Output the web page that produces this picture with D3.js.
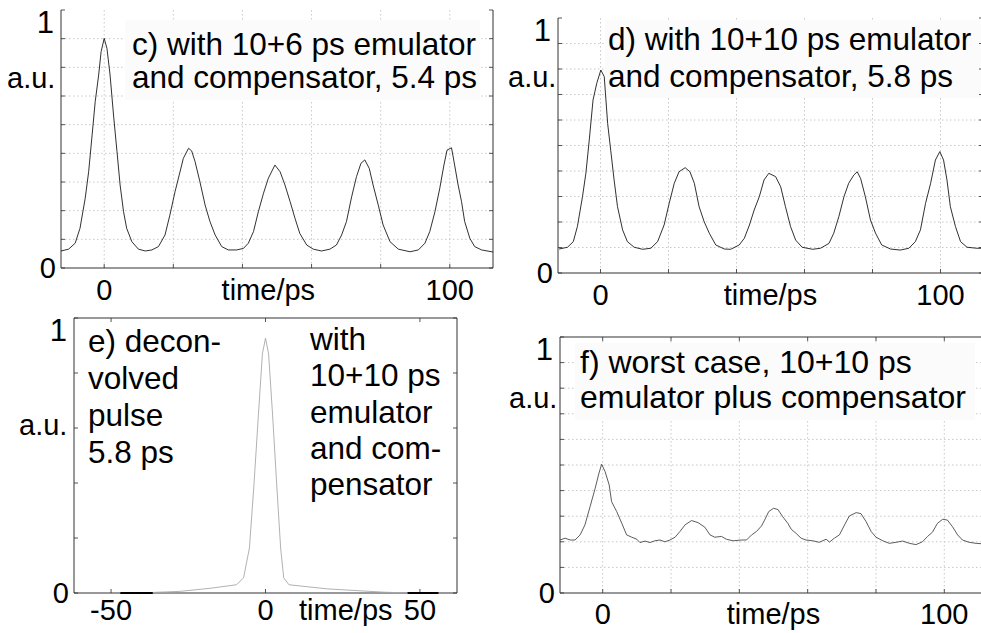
<!DOCTYPE html>
<html>
<head>
<meta charset="utf-8">
<script src="https://cdn.jsdelivr.net/npm/d3@7/dist/d3.min.js"></script>
<style>
  body { margin: 0; background: #fff; }
  text { font-family: "Liberation Sans", Arial, sans-serif; fill: #000; }
</style>
</head>
<body>
<svg id="fig" width="981" height="633"></svg>
<script>
// time axis (ps) shared by c, d, f
const timeDomain = [-12.5, 112.5];
const gridTimes = [0, 20, 40, 60, 80, 100];
const timeLabels = [0, 100];
const eTimeDomain = [-62, 62];
const eTimeLabels = [-50, 0, 50];

// c) 10+6 ps emulator and compensator, [time ps, a.u.]
const cData = [
  [-12.5, 0.066], [-10.3, 0.073], [-8.4, 0.096], [-7.0, 0.154], [-5.5, 0.27], [-4.5, 0.373],
  [-3.5, 0.515], [-2.6, 0.645], [-1.6, 0.748], [-0.9, 0.838], [0, 0.89], [0.8, 0.851],
  [1.7, 0.748], [2.7, 0.593], [3.7, 0.451], [4.6, 0.322], [5.6, 0.218], [6.5, 0.154],
  [8.0, 0.102], [9.9, 0.073], [11.9, 0.066], [13.8, 0.070], [15.7, 0.083], [17.6, 0.128],
  [19.0, 0.205], [20.5, 0.296], [21.7, 0.36], [22.9, 0.425], [24.4, 0.464], [25.3, 0.454],
  [26.3, 0.412], [27.7, 0.334], [29.2, 0.244], [30.6, 0.18], [32.1, 0.128], [34.0, 0.083],
  [35.9, 0.070], [38.3, 0.070], [40.3, 0.076], [41.7, 0.096], [43.2, 0.141], [44.6, 0.218],
  [46.1, 0.29], [47.5, 0.348], [49.4, 0.399], [50.9, 0.373], [52.3, 0.322], [53.8, 0.257],
  [55.2, 0.193], [56.6, 0.134], [58.6, 0.089], [60.5, 0.073], [62.9, 0.066], [65.3, 0.073],
  [67.2, 0.089], [68.7, 0.128], [70.1, 0.18], [71.6, 0.276], [73.0, 0.354], [74.3, 0.406],
  [75.4, 0.419], [76.7, 0.386], [77.8, 0.322], [79.3, 0.244], [80.7, 0.167], [82.7, 0.102],
  [85.1, 0.073], [88.5, 0.063], [90.9, 0.070], [92.8, 0.096], [94.2, 0.141], [95.7, 0.218],
  [97.1, 0.309], [98.3, 0.399], [99.2, 0.457], [100.5, 0.466], [101.4, 0.399], [102.4, 0.322],
  [103.4, 0.257], [104.3, 0.18], [105.8, 0.115], [107.2, 0.083], [109.2, 0.070], [112.5, 0.062]
];

// d) 10+10 ps emulator and compensator
const dData = [
  [-12.2, 0.094], [-9.7, 0.101], [-8.0, 0.123], [-6.8, 0.182], [-5.3, 0.299], [-4.3, 0.391],
  [-3.3, 0.522], [-2.2, 0.678], [-1.1, 0.744], [0.1, 0.796], [1.1, 0.77], [2.1, 0.587],
  [3.0, 0.482], [4.0, 0.365], [5.0, 0.26], [6.5, 0.169], [7.9, 0.123], [9.9, 0.101],
  [12.4, 0.093], [14.8, 0.097], [16.8, 0.123], [18.7, 0.188], [20.2, 0.273], [21.7, 0.352],
  [23.1, 0.397], [24.9, 0.413], [26.3, 0.397], [27.6, 0.352], [29.0, 0.26], [30.5, 0.201],
  [32.0, 0.156], [33.9, 0.11], [36.4, 0.094], [38.3, 0.093], [40.8, 0.11], [42.3, 0.136],
  [43.8, 0.188], [45.2, 0.247], [46.7, 0.299], [48.1, 0.365], [49.5, 0.391], [51.5, 0.378],
  [53.0, 0.338], [54.4, 0.26], [55.9, 0.182], [57.4, 0.129], [59.3, 0.101], [62.4, 0.093],
  [64.7, 0.097], [67.2, 0.116], [68.6, 0.156], [70.1, 0.221], [71.6, 0.299], [73.0, 0.352],
  [74.5, 0.384], [75.5, 0.397], [76.5, 0.371], [77.9, 0.299], [79.4, 0.208], [80.9, 0.156],
  [82.7, 0.11], [85.3, 0.094], [88.2, 0.09], [90.7, 0.097], [92.6, 0.123], [94.1, 0.169],
  [95.6, 0.273], [97.1, 0.352], [98.5, 0.443], [99.8, 0.476], [100.9, 0.443], [101.9, 0.365],
  [102.9, 0.26], [104.4, 0.182], [105.9, 0.123], [107.8, 0.101], [110.7, 0.097], [112.5, 0.097]
];

// e) deconvolved pulse
const eData = [
  [-47, 0], [-36.5, 0.002], [-27.6, 0.006], [-18, 0.017], [-9.4, 0.03], [-7.1, 0.055],
  [-5.2, 0.164], [-3.7, 0.40], [-2.3, 0.647], [-1.0, 0.87], [0, 0.927], [1.0, 0.87],
  [2.3, 0.647], [3.6, 0.40], [4.9, 0.164], [5.9, 0.055], [7.6, 0.03], [20, 0.015],
  [38.3, 0.003], [46, 0], [56, 0]
];
const eDarkSpans = [[-47, -36.5], [46, 56]];

// f) worst case, 10+10 ps emulator plus compensator
const fData = [
  [-12.5, 0.207], [-11.0, 0.214], [-9.5, 0.207], [-8.1, 0.207], [-6.6, 0.227], [-5.2, 0.266],
  [-3.7, 0.337], [-2.2, 0.409], [-1.1, 0.468], [-0.3, 0.503], [0.7, 0.474], [1.9, 0.422],
  [2.6, 0.357], [4.1, 0.318], [5.6, 0.272], [7.0, 0.227], [8.5, 0.218], [10.0, 0.21],
  [10.9, 0.197], [12.4, 0.203], [13.8, 0.197], [15.3, 0.204], [16.8, 0.207], [18.2, 0.2],
  [19.7, 0.207], [21.2, 0.218], [22.6, 0.24], [24.1, 0.266], [26.0, 0.283], [27.9, 0.275],
  [29.9, 0.257], [31.4, 0.227], [32.8, 0.218], [34.8, 0.221], [36.2, 0.21], [38.2, 0.204],
  [40.6, 0.207], [42.1, 0.207], [43.6, 0.227], [45.0, 0.24], [46.5, 0.262], [47.4, 0.285],
  [48.6, 0.318], [50.0, 0.331], [51.3, 0.326], [52.7, 0.298], [54.2, 0.272], [55.2, 0.249],
  [56.6, 0.233], [58.1, 0.214], [59.5, 0.207], [61.5, 0.204], [63.4, 0.198], [65.4, 0.21],
  [66.4, 0.199], [67.8, 0.214], [69.3, 0.227], [70.8, 0.266], [72.2, 0.301], [74.2, 0.314],
  [75.6, 0.31], [77.1, 0.279], [78.6, 0.24], [80.0, 0.218], [82.0, 0.204], [83.9, 0.194],
  [85.9, 0.198], [87.8, 0.203], [89.8, 0.194], [91.7, 0.189], [93.6, 0.2], [95.1, 0.221],
  [96.5, 0.237], [98.0, 0.272], [99.5, 0.288], [100.9, 0.285], [102.4, 0.259], [103.9, 0.227],
  [105.3, 0.207], [107.3, 0.198], [109.3, 0.194], [112.5, 0.191]
];

const svg = d3.select('#fig');

function drawPanel(p) {
  const x = d3.scaleLinear().domain(p.xDomain).range([p.left, p.right]);
  const y = d3.scaleLinear().domain([0, 1]).range([p.bottom, p.top]);
  const g = svg.append('g');
  const yDivs = d3.range(0, p.divs + 1).map(i => i / p.divs);

  if (p.grid) {
    g.selectAll('.vg').data(p.gridX).join('line')
      .attr('x1', d => x(d)).attr('x2', d => x(d))
      .attr('y1', p.top).attr('y2', p.bottom)
      .attr('stroke', '#c8c8c8').attr('stroke-dasharray', '1.5,2.5');
    g.selectAll('.hg').data(yDivs.slice(1, -1)).join('line')
      .attr('x1', p.left).attr('x2', p.right)
      .attr('y1', d => y(d)).attr('y2', d => y(d))
      .attr('stroke', '#c8c8c8').attr('stroke-dasharray', '1.5,2.5');
  }
  if (p.textBox) {
    g.append('rect')
      .attr('x', p.textBox[0]).attr('y', p.textBox[1])
      .attr('width', p.textBox[2]).attr('height', p.textBox[3])
      .attr('fill', '#fbfbfb');
  }

  // ticks on left, right (inward) and bottom (upward)
  const tk = 4;
  g.selectAll('.lt').data(yDivs).join('line')
    .attr('x1', p.left).attr('x2', p.left + tk)
    .attr('y1', d => y(d)).attr('y2', d => y(d)).attr('stroke', '#555');
  g.selectAll('.rt').data(yDivs).join('line')
    .attr('x1', p.right).attr('x2', p.right - tk)
    .attr('y1', d => y(d)).attr('y2', d => y(d)).attr('stroke', '#555');
  g.selectAll('.bt').data(p.gridX).join('line')
    .attr('x1', d => x(d)).attr('x2', d => x(d))
    .attr('y1', p.bottom).attr('y2', p.bottom - tk).attr('stroke', '#555');
  if (p.box) {
    g.selectAll('.tt').data(p.gridX).join('line')
      .attr('x1', d => x(d)).attr('x2', d => x(d))
      .attr('y1', p.top).attr('y2', p.top + tk).attr('stroke', '#555');
  }

  // frame
  const frame = [[p.left, p.top, p.left, p.bottom], [p.left, p.bottom, p.right, p.bottom],
                 [p.right, p.top, p.right, p.bottom]];
  if (p.box) frame.push([p.left, p.top, p.right, p.top]);
  g.selectAll('.fr').data(frame).join('line')
    .attr('x1', d => d[0]).attr('y1', d => d[1]).attr('x2', d => d[2]).attr('y2', d => d[3])
    .attr('stroke', '#333').attr('stroke-width', 1);

  // curve
  const line = d3.line().x(d => x(d[0])).y(d => y(d[1]));
  g.append('path').datum(p.data)
    .attr('d', line).attr('fill', 'none')
    .attr('stroke', p.color).attr('stroke-width', p.width);
  if (p.darkSpans) {
    g.selectAll('.ds').data(p.darkSpans).join('line')
      .attr('x1', d => x(d[0])).attr('x2', d => x(d[1]))
      .attr('y1', y(0)).attr('y2', y(0))
      .attr('stroke', '#000').attr('stroke-width', 2);
  }

  // axis labels
  g.append('text').attr('x', p.left - 7).attr('y', p.top + 23)
    .attr('text-anchor', 'end').style('font-size', '31px').text('1');
  g.append('text').attr('x', p.left - 5).attr('y', p.bottom + 10)
    .attr('text-anchor', 'end').style('font-size', '29px').text('0');
  g.append('text').attr('x', p.auX).attr('y', p.auY)
    .style('font-size', '29px').text('a.u.');
  g.selectAll('.xl').data(p.xLabels).join('text')
    .attr('x', d => x(d)).attr('y', p.xLabelY)
    .attr('text-anchor', 'middle').style('font-size', '29px').text(d => d);
  g.append('text').attr('x', x(p.timeAt)).attr('y', p.xLabelY)
    .attr('text-anchor', 'middle').style('font-size', '29px').text('time/ps');

  // panel caption
  p.caption.forEach(c => {
    c.lines.forEach((t, i) => {
      g.append('text').attr('x', c.x).attr('y', c.y + i * c.dy)
        .style('font-size', c.size + 'px').text(t);
    });
  });
}

drawPanel({
  xDomain: timeDomain, left: 61, right: 493, top: 10, bottom: 268, divs: 9,
  grid: true, box: false, gridX: gridTimes, xLabels: timeLabels, timeAt: 47.5,
  data: cData, color: '#1a1a1a', width: 0.9, auX: 7, auY: 88, xLabelY: 300,
  textBox: [125, 20, 355, 80],
  caption: [{ x: 132, y: 55, dy: 33, size: 31.5,
    lines: ['c) with 10+6 ps emulator', 'and compensator, 5.4 ps'] }]
});

drawPanel({
  xDomain: timeDomain, left: 558, right: 983, top: 18, bottom: 273, divs: 10,
  grid: true, box: false, gridX: gridTimes, xLabels: timeLabels, timeAt: 50,
  data: dData, color: '#1a1a1a', width: 0.9, auX: 508, auY: 87, xLabelY: 305,
  textBox: [605, 20, 376, 78],
  caption: [{ x: 608, y: 50, dy: 37, size: 31.5,
    lines: ['d) with 10+10 ps emulator', 'and compensator, 5.8 ps'] }]
});

drawPanel({
  xDomain: eTimeDomain, left: 74, right: 457, top: 318, bottom: 593, divs: 5,
  grid: false, box: true, gridX: eTimeLabels, xLabels: eTimeLabels, timeAt: 26,
  data: eData, color: '#a8a8a8', width: 0.9, darkSpans: eDarkSpans,
  auX: 19, auY: 435, xLabelY: 620,
  caption: [
    { x: 88, y: 352, dy: 37, size: 31.5, lines: ['e) decon-', 'volved', 'pulse', '5.8 ps'] },
    { x: 310, y: 350, dy: 36.3, size: 31.5, lines: ['with', '10+10 ps', 'emulator', 'and com-', 'pensator'] }
  ]
});

drawPanel({
  xDomain: timeDomain, left: 560, right: 987, top: 337, bottom: 593, divs: 10,
  grid: true, box: true, gridX: gridTimes, xLabels: timeLabels, timeAt: 50,
  data: fData, color: '#4a4a4a', width: 0.9, auX: 509, auY: 408, xLabelY: 624,
  textBox: [575, 343, 400, 77],
  caption: [{ x: 580, y: 373, dy: 35, size: 32,
    lines: ['f) worst case, 10+10 ps', 'emulator plus compensator'] }]
});
</script>
</body>
</html>
